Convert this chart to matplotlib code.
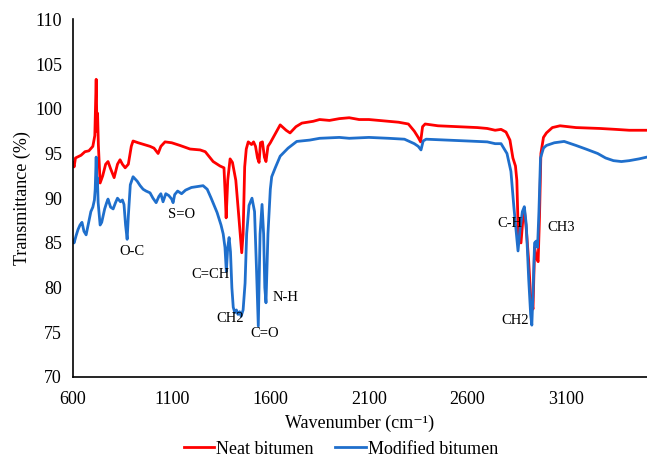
import numpy as np
import matplotlib
matplotlib.use("Agg")
import matplotlib.pyplot as plt

plt.rcParams['font.family'] = ['Liberation Serif', 'DejaVu Serif']

# FTIR spectra
wn_neat = [600, 605, 612, 640, 660, 680, 700, 710, 717, 721, 724, 728, 737, 750, 765, 777,
           790, 808, 825, 838, 850, 864, 880, 895, 904, 930, 960, 990, 1010, 1031, 1045, 1066,
           1100, 1142, 1193, 1244, 1270, 1310, 1345, 1365, 1372, 1376, 1384, 1396, 1408, 1425,
           1440, 1455, 1462, 1470, 1478, 1488, 1505, 1515, 1525, 1535, 1543, 1550, 1560, 1570,
           1578, 1588, 1600, 1620, 1650, 1680, 1700, 1730, 1760, 1817, 1850, 1900, 1950, 2000,
           2050, 2100, 2150, 2200, 2250, 2300, 2330, 2350, 2362, 2372, 2385, 2450, 2550, 2650,
           2700, 2740, 2770, 2795, 2815, 2830, 2843, 2850, 2858, 2871, 2880, 2888, 2898, 2910,
           2920, 2932, 2940, 2950, 2958, 2965, 2972, 2985, 3000, 3030, 3069, 3150, 3272, 3350,
           3420, 3510]
t_neat = [94.0, 93.5, 94.5, 94.8, 95.2, 95.3, 95.8, 97.0, 103.3, 97.5, 99.5, 96.0, 91.7, 92.5,
          93.8, 94.1, 93.3, 92.3, 93.8, 94.3, 93.8, 93.4, 93.8, 95.8, 96.4, 96.2, 96.0, 95.8,
          95.6, 95.0, 95.8, 96.3, 96.2, 95.9, 95.5, 95.4, 95.2, 94.1, 93.6, 93.4, 90.0, 87.8,
          92.0, 94.4, 94.0, 92.0, 88.0, 83.9, 86.0, 93.5, 95.5, 96.3, 96.0, 96.3, 95.8, 94.5,
          94.0, 96.2, 96.3, 94.6, 94.1, 95.8, 96.2, 97.0, 98.2, 97.6, 97.3, 98.0, 98.4, 98.6,
          98.8, 98.7, 98.9, 99.0, 98.8, 98.8, 98.7, 98.6, 98.5, 98.3, 97.5, 96.8, 96.3, 98.0,
          98.3, 98.1, 98.0, 97.9, 97.8, 97.6, 97.7, 97.4, 96.5, 94.5, 93.6, 92.0, 85.5, 85.0,
          87.5, 88.8, 86.5, 83.0, 79.0, 77.6, 84.5, 83.3, 82.9, 88.0, 95.0, 96.8, 97.3, 97.9,
          98.1, 97.9, 97.8, 97.7, 97.6, 97.6]

wn_mod = [600, 605, 615, 625, 635, 645, 655, 666, 676, 690, 700, 708, 712, 717, 720, 723, 727,
          737, 745, 760, 770, 777, 790, 803, 815, 825, 840, 850, 858, 866, 874, 880, 890, 904,
          925, 940, 955, 970, 990, 1005, 1021, 1035, 1045, 1056, 1070, 1085, 1100, 1107, 1115,
          1130, 1150, 1170, 1200, 1230, 1259, 1280, 1300, 1330, 1350, 1361, 1370, 1377, 1384,
          1391, 1398, 1405, 1412, 1420, 1428, 1436, 1444, 1452, 1462, 1472, 1480, 1492, 1507,
          1520, 1530, 1539, 1548, 1558, 1566, 1572, 1578, 1588, 1600, 1607, 1625, 1650, 1690,
          1734, 1800, 1850, 1903, 1950, 2000, 2100, 2200, 2280, 2330, 2350, 2364, 2375, 2390,
          2500, 2600, 2700, 2740, 2770, 2800, 2820, 2835, 2848, 2856, 2866, 2878, 2888, 2898,
          2910, 2920, 2926, 2933, 2940, 2948, 2955, 2962, 2970, 2985, 3000, 3040, 3090, 3150,
          3200, 3260, 3300, 3340, 3380, 3420, 3470, 3510]
t_mod = [85.3, 85.0, 85.8, 86.5, 87.0, 87.3, 86.3, 85.9, 87.0, 88.5, 89.0, 89.8, 91.0, 94.6,
         91.5, 92.3, 89.5, 87.0, 87.3, 88.8, 89.5, 89.9, 89.0, 88.8, 89.5, 90.0, 89.6, 89.8,
         89.3, 87.0, 85.4, 88.0, 91.5, 92.4, 91.9, 91.4, 91.0, 90.8, 90.6, 90.0, 89.5, 90.2,
         90.5, 89.6, 90.5, 90.3, 89.9, 89.5, 90.4, 90.8, 90.5, 90.9, 91.2, 91.3, 91.4, 91.0,
         90.0, 88.4, 87.0, 86.0, 84.5, 81.8, 84.5, 85.6, 84.0, 80.0, 77.8, 77.2, 77.5, 77.0,
         77.3, 76.8, 77.5, 80.5, 86.0, 89.2, 90.0, 88.5, 82.0, 75.7, 86.0, 89.3, 86.0, 80.0,
         78.3, 86.0, 91.0, 92.4, 93.4, 94.7, 95.6, 96.35, 96.5, 96.7, 96.75, 96.8, 96.7, 96.8,
         96.7, 96.6, 96.1, 95.8, 95.4, 96.4, 96.6, 96.5, 96.4, 96.3, 96.1, 96.1, 95.0, 93.0,
         89.0, 86.0, 84.1, 86.5, 88.5, 89.05, 87.0, 81.0, 77.0, 75.8, 80.0, 85.0, 85.2, 84.5,
         88.5, 94.5, 95.6, 95.9, 96.2, 96.35, 95.9, 95.5, 95.0, 94.5, 94.2, 94.1, 94.2, 94.4,
         94.6]

peak_labels = ["O-C", "S=O", "C=CH", "CH2", "C=O", "N-H", "C-H", "CH3", "CH2"]
peak_x = [898, 1151, 1295, 1396, 1570, 1675, 2816, 3073, 2841]
peak_y = [84.0, 88.2, 81.5, 76.5, 74.9, 78.85, 87.2, 86.7, 76.3]

fig = plt.figure(figsize=(6.47, 4.62), dpi=100)
ax = fig.add_axes([0.113, 0.184, 0.887, 0.774])

ax.plot(wn_neat, t_neat, color='#ff0000', lw=2.0, label='Neat bitumen')
ax.plot(wn_mod, t_mod, color='#1f6fcc', lw=2.0, label='Modified bitumen')

for lab, x, y in zip(peak_labels, peak_x, peak_y):
    ax.text(x, y, lab, fontsize=10.5, ha='center', va='center')

ax.set_xlim(600, 3510)
ax.set_ylim(70, 110)
ax.set_xticks([600, 1100, 1600, 2100, 2600, 3100])
ax.set_yticks(np.arange(70, 111, 5))
ax.tick_params(length=0, labelsize=13)
ax.tick_params(axis='x', pad=10)
ax.tick_params(axis='y', pad=8)
for s in ['top', 'right']:
    ax.spines[s].set_visible(False)
ax.spines['left'].set_linewidth(1.2)
ax.spines['bottom'].set_linewidth(1.2)

ax.set_xlabel('Wavenumber (cm\u207b\u00b9)', fontsize=13, labelpad=5)
ax.set_ylabel('Transmittance (%)', fontsize=13, labelpad=3)

fig.legend(loc='center', bbox_to_anchor=(0.527, 1 - 449 / 462), ncol=2, frameon=False,
           fontsize=13, handlelength=1.7, handletextpad=0.1, columnspacing=1.2)

fig.savefig('out.png', dpi=100)
